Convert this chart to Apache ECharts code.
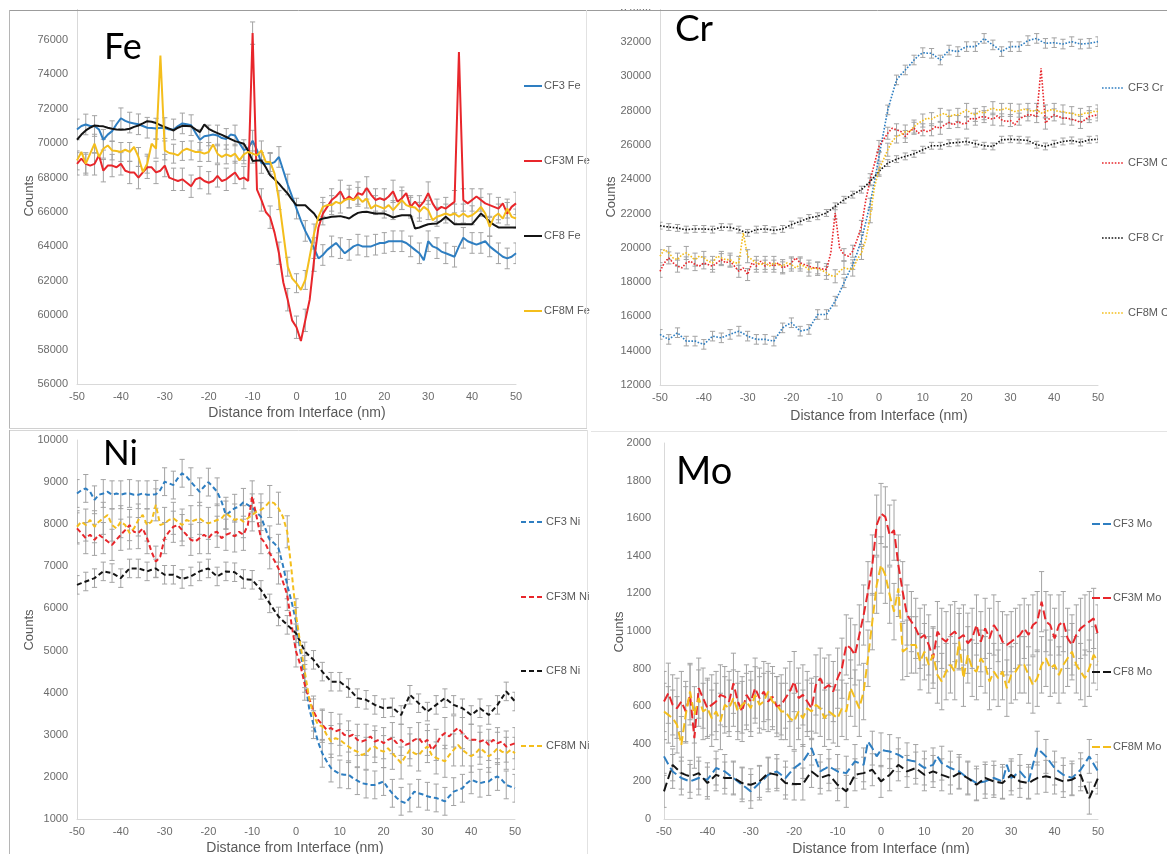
<!DOCTYPE html>
<html>
<head>
<meta charset="utf-8">
<title>Fe, Cr, Ni, Mo line profiles across the interface</title>
<script src="https://cdn.jsdelivr.net/npm/echarts@6/dist/echarts.min.js"></script>
<style>
  html, body { margin: 0; padding: 0; background: #ffffff; }
  #chart { width: 1167px; height: 854px; }
</style>
</head>
<body>
<div id="chart"></div>
<script>
// Distance from interface (nm), one profile point per nanometre
const DIST = [
  -50,-49,-48,-47,-46,-45,-44,-43,-42,-41,
  -40,-39,-38,-37,-36,-35,-34,-33,-32,-31,
  -30,-29,-28,-27,-26,-25,-24,-23,-22,-21,
  -20,-19,-18,-17,-16,-15,-14,-13,-12,-11,
  -10,-9,-8,-7,-6,-5,-4,-3,-2,-1,
  0,1,2,3,4,5,6,7,8,9,
  10,11,12,13,14,15,16,17,18,19,
  20,21,22,23,24,25,26,27,28,29,
  30,31,32,33,34,35,36,37,38,39,
  40,41,42,43,44,45,46,47,48,49,
  50
];
const SAMPLES = ['CF3', 'CF3M', 'CF8', 'CF8M'];

// ---- Fe counts ----
const FE_CF3 = [
  70800,71000,71090,71000,71000,70800,70200,70500,70700,71100,
  71450,71300,71200,71150,71100,71000,70900,70880,70850,70900,
  70880,70800,70800,71000,71150,71100,71050,70600,70200,70400,
  70450,70500,70450,70300,70250,70500,70450,70000,69600,69700,
  70150,69600,68850,68800,68800,68900,69200,68400,67600,66900,
  66200,65500,64900,64400,63900,63300,63500,63800,64000,64200,
  63900,63600,63800,64000,64100,64000,64000,64000,64100,64200,
  64200,64300,64300,64300,64300,64200,64000,63800,63600,63200,
  64300,64000,63900,63700,63600,63500,63400,64000,64500,64300,
  64200,64100,64200,64300,64000,63800,63600,63400,63300,63400,
  63600
];
const FE_CF3M = [
  68800,69100,68800,68700,68800,69300,68400,68700,68700,68600,
  68800,68400,68300,68300,68000,68300,68600,68600,68300,68400,
  68700,68000,67900,67800,67900,67700,67500,67900,68000,67800,
  67700,67800,68100,67800,67900,68100,68300,67900,68000,67800,
  76400,67300,66700,66000,65700,64800,63600,61900,60900,59700,
  59300,58500,59700,60900,63200,65100,65900,66300,66700,66900,
  67200,66700,66900,66700,67100,67000,67400,67000,66700,66800,
  66700,66900,67200,66600,66800,67100,66300,66600,66300,66600,
  67100,66500,66100,66300,66200,66400,66600,75300,66700,66500,
  66700,66900,66700,66500,66400,66300,66200,66500,65900,66300,
  66500
];
const FE_CF8 = [
  70200,70500,70740,70900,71030,71000,70980,70900,70840,70800,
  70780,70800,70840,70950,71030,71150,71280,71250,71170,71050,
  70940,70850,70740,70900,71010,71000,70980,70800,70650,71090,
  70840,70700,70590,70480,70360,70240,70120,70050,69970,69550,
  68970,69000,69000,68600,68130,67900,67650,67350,67070,66700,
  66390,66390,66390,66150,65910,65530,65620,65670,65720,65740,
  65760,65700,65620,65800,65950,66000,66010,65960,65910,65910,
  65910,65800,65680,65750,65810,65810,65810,65040,65100,65200,
  65290,65310,65330,65500,65720,65500,65290,65290,65290,65290,
  65290,65600,65910,65700,65430,65250,65100,65100,65100,65100,
  65100
];
const FE_CF8M = [
  69000,69490,68810,69390,69970,69200,69680,69870,69580,69550,
  69490,69620,69490,69780,69200,68330,68810,69970,69680,75090,
  69580,69430,69390,69290,69550,69680,69580,69490,69490,69390,
  69490,69930,69390,69200,69350,69240,69390,69000,69350,69490,
  69390,69290,69580,68910,68910,68230,66690,64750,62820,62140,
  61860,61470,62050,63400,64750,65720,66300,66400,66400,66590,
  66490,66690,66780,66690,66880,66590,66780,66200,66400,66300,
  66200,66400,66110,66400,66690,66400,66300,66260,66010,66300,
  66110,65530,65720,65810,65910,65810,65910,65720,65910,65720,
  65810,66010,66300,65910,65140,65720,65910,65620,66200,65720,
  65620
];
const FE_ERR = [600, 650, null, 550];

// ---- Cr counts ----
const CR_CF3 = [
  14950,14800,14660,14850,15050,14800,14560,14560,14560,14450,
  14370,14600,14850,14800,14750,14850,14950,15050,15140,15000,
  14850,14750,14660,14660,14660,14600,14560,14950,15330,15500,
  15630,15400,15140,15200,15240,15700,16110,16110,16110,16500,
  16890,17400,17960,18500,19020,19700,20480,21500,22610,23900,
  25330,26680,28040,28920,29790,30100,30370,30650,30950,31200,
  31380,31350,31340,31150,30950,31250,31530,31480,31440,31600,
  31730,31730,31730,31950,32210,32000,31830,31650,31440,31600,
  31730,31730,31730,31900,32080,32150,32210,32050,31920,31940,
  31960,31920,31880,31950,32020,31950,31880,31900,31920,31970,
  32020
];
const CR_CF3M = [
  18630,19120,19410,19120,18930,18830,19120,19220,19020,18930,
  19120,19020,18930,19120,19310,19120,19220,18930,18630,18830,
  18440,19120,18930,19220,18930,19120,18930,19120,18830,18930,
  19120,19410,19120,19020,18930,18830,18830,18770,18730,19700,
  22030,19990,19600,19510,19800,20480,21250,22800,23970,24940,
  25910,26300,26680,26970,26880,26780,26490,26780,26970,26680,
  26880,26780,26880,27070,26970,27170,27310,27170,27360,27230,
  27270,27560,27500,27620,27650,27560,27500,27690,27460,27360,
  27420,27170,27500,27650,27750,27750,27650,30470,27270,27560,
  27750,27650,27560,27560,27500,27420,27310,27460,27650,27710,
  27750
];
const CR_CF8 = [
  21290,21250,21210,21180,21160,21100,21060,21080,21100,21100,
  21100,21080,21060,21130,21210,21200,21190,21120,21060,20950,
  20870,20960,21060,21080,21100,21060,21020,21060,21100,21220,
  21350,21450,21540,21640,21740,21790,21840,21940,22030,22230,
  22420,22610,22800,22950,23100,23250,23390,23630,23870,24160,
  24450,24700,24940,25050,25170,25250,25330,25400,25480,25600,
  25720,25830,25950,25950,25950,26020,26100,26120,26140,26170,
  26200,26130,26070,26010,25950,25930,25910,26100,26300,26310,
  26330,26310,26300,26280,26260,26130,26010,25960,25910,25990,
  26070,26130,26200,26230,26260,26200,26140,26220,26300,26310,
  26330
];
const CR_CF8M = [
  19510,19900,19700,19410,19310,19600,19700,19510,19310,19510,
  19410,19220,19120,19510,19410,19310,19310,19120,19120,20870,
  19510,19310,19120,19020,19120,18930,19120,19020,18930,19120,
  19020,18830,19020,18930,18730,18830,18770,18690,18540,18380,
  18340,18630,18830,18770,18730,19310,19700,20480,21840,23580,
  24550,25130,25720,26200,26490,26590,26780,26780,27070,27270,
  27420,27560,27500,27650,27750,27850,27650,27750,27750,27890,
  28040,27850,27750,27950,27850,28040,28140,28040,28040,28140,
  28040,27950,28000,28080,28040,27950,28040,27850,27950,28040,
  28040,27950,27950,27850,27850,27750,27750,27850,27850,27950,
  27950
];
const CR_ERR = [280, 350, 200, 380];

// ---- Ni counts ----
const NI_CF3 = [
  8730,8810,8850,8770,8580,8700,8730,8770,8700,8730,
  8700,8730,8730,8700,8700,8730,8700,8700,8710,8810,
  9010,8970,8930,9090,9210,9130,9010,8890,8770,8890,
  9000,8890,8770,8540,8220,8300,8380,8420,8520,8460,
  8390,8280,8180,7900,7630,7550,7430,7030,6560,6160,
  5690,4980,4340,3630,3240,2840,2560,2370,2210,2130,
  2070,2050,2050,1970,1910,1850,1830,1810,1810,1850,
  1890,1730,1610,1500,1420,1380,1500,1650,1610,1580,
  1540,1510,1500,1460,1420,1540,1650,1690,1730,1850,
  1930,1890,1850,1880,1890,1970,2010,1930,1810,1770,
  1730
];
const NI_CF3M = [
  7900,7790,7670,7750,7630,7750,7670,7590,7510,7630,
  7750,7860,7980,7820,7790,7900,7670,7350,7110,7230,
  7670,7820,7940,7980,7860,7750,7630,7590,7670,7750,
  7670,7790,7820,7670,7750,7790,7710,7820,7750,7980,
  8660,8180,7670,7550,7310,7150,6950,6640,6320,5610,
  4980,4660,4190,3870,3550,3360,3240,3120,3160,3080,
  3120,3000,2960,3000,2880,2840,2880,2960,2840,2880,
  2800,2880,2920,2800,2880,2760,2800,2880,2920,2800,
  2880,2640,2760,2960,3040,2960,3080,3160,3040,2920,
  2880,2880,2840,2880,2760,2880,2800,2840,2720,2760,
  2800
];
const NI_CF8 = [
  6560,6600,6640,6680,6720,6800,6880,6860,6840,6780,
  6720,6840,6950,6950,6950,6920,6880,6920,6950,6870,
  6800,6800,6800,6750,6700,6730,6760,6820,6880,6920,
  6950,6850,6760,6820,6880,6870,6860,6780,6700,6690,
  6680,6560,6440,6280,6120,5960,5810,5710,5610,5510,
  5410,5200,4980,4880,4780,4640,4500,4380,4260,4260,
  4260,4180,4110,3990,3870,3850,3830,3770,3710,3670,
  3630,3640,3650,3560,3470,3710,3950,3850,3750,3650,
  3550,3630,3710,3790,3870,3790,3710,3670,3630,3550,
  3470,3550,3630,3550,3470,3590,3710,3870,4030,3910,
  3790
];
const NI_CF8M = [
  7940,8060,7980,8100,7940,8060,8140,8220,7980,7900,
  8060,7980,7790,7900,8100,8220,7980,8060,8460,7980,
  8020,8100,8140,8060,7980,8100,8060,8100,8140,8060,
  8020,8060,8100,8140,8260,8180,8100,8140,8060,8140,
  8220,8300,8340,8420,8540,8500,8380,8180,7820,6880,
  5850,5140,4500,3870,3470,3240,3200,3000,2840,2920,
  2880,2800,2720,2640,2600,2520,2560,2680,2720,2640,
  2600,2680,2560,2450,2330,2490,2640,2560,2520,2640,
  2720,2520,2450,2410,2370,2520,2640,2760,2640,2560,
  2490,2560,2680,2600,2490,2560,2680,2600,2560,2640,
  2560
];
const NI_ERR = [330, 370, 220, 380];

// ---- Mo counts ----
const MO_CF3 = [
  333,290,253,235,218,209,200,209,218,214,
  209,240,271,262,253,235,218,200,182,165,
  147,169,191,213,235,244,253,235,218,245,
  271,288,306,341,377,315,253,266,280,266,
  253,249,244,275,306,297,288,412,377,333,
  368,363,359,350,342,328,315,310,306,288,
  271,280,288,333,297,284,271,262,253,235,
  218,205,191,195,200,209,218,209,200,288,
  218,235,253,227,200,288,377,355,333,302,
  271,253,235,227,218,240,262,297,333,293,
  253
];
const MO_CF3M = [
  625,669,607,589,625,572,660,430,696,643,
  589,607,625,660,651,625,722,625,572,660,
  625,696,643,678,625,651,598,607,643,678,
  731,643,660,625,589,713,749,696,713,678,
  749,802,926,908,873,979,1085,1209,1351,1563,
  1625,1607,1510,1536,1351,1209,1085,1050,1014,961,
  979,926,855,997,961,943,979,997,961,979,
  935,961,1032,943,1014,961,1032,997,943,926,
  943,961,979,1014,979,1032,1050,1156,1050,1032,
  961,1032,1050,961,926,979,1014,1032,1050,1067,
  979
];
const MO_CF8 = [
  147,218,288,266,244,235,227,235,244,218,
  191,213,235,227,218,218,218,205,191,186,
  182,191,200,222,244,240,235,213,191,189,
  186,186,186,220,253,235,218,227,235,209,
  182,165,147,191,235,240,244,253,262,231,
  200,218,235,262,288,271,253,262,271,253,
  235,244,253,244,235,227,218,231,244,231,
  218,200,182,200,218,209,200,196,191,213,
  235,218,200,196,191,205,218,222,227,222,
  218,209,200,205,209,222,235,173,111,165,
  218
];
const MO_CF8M = [
  572,554,536,501,395,554,678,554,643,572,
  589,536,572,519,607,589,643,572,607,625,
  589,660,607,625,678,625,607,572,572,536,
  519,572,536,589,572,607,589,536,572,554,
  536,589,572,696,643,589,678,855,1050,1244,
  1351,1297,1191,1103,1227,890,908,926,926,837,
  890,820,873,766,731,784,820,784,943,749,
  873,802,784,855,820,731,784,749,784,696,
  766,784,820,820,766,713,749,820,855,802,
  820,766,820,855,890,820,784,749,802,873,
  837
];
const MO_ERR = [90, 160, 85, 150];

// ---- appearance ----
const COLORS = ['#2E7EC1', '#E8262B', '#141414', '#F4BE1C'];
const AXIS_FONT = 'Liberation Sans, Arial, sans-serif';
const LABEL_GREY = '#6b6b6b';
const TITLE_GREY = '#595959';

const panels = [
  {
    element: 'Fe', data: [FE_CF3, FE_CF3M, FE_CF8, FE_CF8M], err: FE_ERR, errStep: [2, 2, 2, 2],
    grid: { left: 77, top: 5.6, width: 439, height: 378.4 },
    yMin: 56000, yMax: 78000, yStep: 2000, yMargin: 9, showMax: false,
    line: { width: 2, type: 'solid' },
    legend: { x1: 524, x2: 542, tx: 544, ys: [86, 161, 236, 311], dash: null, width: 2 },
    big: { x: 104, y: 47, size: 36 },
    counts: { x: 29, y: 196 }, dist: { x: 297, y: 413 }
  },
  {
    element: 'Cr', data: [CR_CF3, CR_CF3M, CR_CF8, CR_CF8M], err: CR_ERR, errStep: [2, 2, 2, 2],
    grid: { left: 660, top: 7.7, width: 438, height: 377.3 },
    yMin: 12000, yMax: 34000, yStep: 2000, yMargin: 9, showMax: true,
    line: { width: 1.6, type: [1.6, 1.6] },
    legend: { x1: 1102, x2: 1124, tx: 1128, ys: [88, 163, 238, 313], dash: [1.6, 1.6], width: 1.5 },
    big: { x: 675, y: 29, size: 37 },
    counts: { x: 611, y: 197 }, dist: { x: 879, y: 416 }
  },
  {
    element: 'Ni', data: [NI_CF3, NI_CF3M, NI_CF8, NI_CF8M], err: NI_ERR, errStep: [2, 2, 2, 2],
    grid: { left: 77, top: 440, width: 438, height: 379 },
    yMin: 1000, yMax: 10000, yStep: 1000, yMargin: 9, showMax: true,
    line: { width: 2, type: [5, 3] },
    legend: { x1: 521, x2: 544, tx: 546, ys: [522, 597, 671, 746], dash: [5, 3], width: 2 },
    big: { x: 103, y: 454, size: 35 },
    counts: { x: 29, y: 630 }, dist: { x: 295, y: 848 }
  },
  {
    element: 'Mo', data: [MO_CF3, MO_CF3M, MO_CF8, MO_CF8M], err: MO_ERR, errStep: [2, 1, 2, 1],
    grid: { left: 664, top: 443, width: 434, height: 376 },
    yMin: 0, yMax: 2000, yStep: 200, yMargin: 13, showMax: true,
    line: { width: 2, type: [9, 4] },
    legend: { x1: 1092, x2: 1111, tx: 1113, ys: [524, 598, 672, 747], dash: [8, 3], width: 2 },
    big: { x: 676, y: 472, size: 38 },
    counts: { x: 619, y: 632 }, dist: { x: 881, y: 849 }
  }
];

const grids = [], xAxes = [], yAxes = [], series = [], graphics = [];

// error bars: vertical whisker with a short cap at each end
function renderErrorBar(params, api) {
  const x = api.value(0);
  const lo = api.coord([x, api.value(1)]);
  const hi = api.coord([x, api.value(2)]);
  const hw = 2.6;
  const style = { stroke: '#a3a3a3', lineWidth: 1 };
  return {
    type: 'group',
    children: [
      { type: 'line', shape: { x1: lo[0], y1: lo[1], x2: hi[0], y2: hi[1] }, style },
      { type: 'line', shape: { x1: lo[0] - hw, y1: lo[1], x2: lo[0] + hw, y2: lo[1] }, style },
      { type: 'line', shape: { x1: hi[0] - hw, y1: hi[1], x2: hi[0] + hw, y2: hi[1] }, style }
    ]
  };
}

const plainNumber = v => String(v);

panels.forEach((p, gi) => {
  grids.push(Object.assign({ containLabel: false }, p.grid));
  xAxes.push({
    type: 'value', gridIndex: gi, min: -50, max: 50, interval: 10,
    axisLine: { show: true, onZero: false, lineStyle: { color: '#d9d9d9', width: 1 } },
    axisTick: { show: false }, splitLine: { show: false },
    axisLabel: { color: LABEL_GREY, fontSize: 11, fontFamily: AXIS_FONT, margin: 7, formatter: plainNumber }
  });
  yAxes.push({
    type: 'value', gridIndex: gi, min: p.yMin, max: p.yMax, interval: p.yStep,
    axisLine: { show: true, onZero: false, lineStyle: { color: '#d9d9d9', width: 1 } },
    axisTick: { show: false }, splitLine: { show: false },
    axisLabel: { color: LABEL_GREY, fontSize: 11, fontFamily: AXIS_FONT, margin: p.yMargin,
      showMaxLabel: p.showMax, formatter: plainNumber }
  });

  // error bars first so the profile lines sit above them
  p.data.forEach((vals, si) => {
    const e = p.err[si];
    if (e == null) return;
    const pts = [];
    DIST.forEach((d, i) => {
      if (d % p.errStep[si] === 0) pts.push([d, vals[i] - e, vals[i] + e]);
    });
    series.push({
      type: 'custom', name: SAMPLES[si] + ' ' + p.element + ' error',
      xAxisIndex: gi, yAxisIndex: gi, data: pts, renderItem: renderErrorBar,
      encode: { x: 0, y: [1, 2] }, silent: true, z: 1, clip: true
    });
  });

  p.data.forEach((vals, si) => {
    series.push({
      type: 'line', name: SAMPLES[si] + ' ' + p.element,
      xAxisIndex: gi, yAxisIndex: gi,
      data: DIST.map((d, i) => [d, vals[i]]),
      showSymbol: false, symbol: 'none', smooth: false,
      lineStyle: { color: COLORS[si], width: p.line.width, type: p.line.type, cap: 'butt' },
      z: 3 + si, silent: true
    });
  });

  // legend entries at the right of each panel
  p.legend.ys.forEach((y, si) => {
    const ls = { stroke: COLORS[si], lineWidth: p.legend.width };
    if (p.legend.dash) ls.lineDash = p.legend.dash;
    graphics.push({ type: 'line', shape: { x1: p.legend.x1, y1: y, x2: p.legend.x2, y2: y }, style: ls, z: 20 });
    graphics.push({ type: 'text', x: p.legend.tx, y: y,
      style: { text: SAMPLES[si] + ' ' + p.element, fill: TITLE_GREY, font: '11px ' + AXIS_FONT,
        textVerticalAlign: 'middle', verticalAlign: 'middle' }, z: 20 });
  });

  // element symbol
  graphics.push({ type: 'text', x: p.big.x, y: p.big.y,
    style: { text: p.element, fill: '#000000', font: p.big.size + 'px Lato, "Open Sans", sans-serif',
      textVerticalAlign: 'middle', verticalAlign: 'middle' }, z: 20 });

  // axis titles
  graphics.push({ type: 'text', x: p.counts.x, y: p.counts.y, rotation: Math.PI / 2,
    style: { text: 'Counts', fill: TITLE_GREY, font: '13px ' + AXIS_FONT,
      textAlign: 'center', align: 'center', textVerticalAlign: 'middle', verticalAlign: 'middle' }, z: 20 });
  graphics.push({ type: 'text', x: p.dist.x, y: p.dist.y,
    style: { text: 'Distance from Interface (nm)', fill: TITLE_GREY, font: '14px ' + AXIS_FONT,
      textAlign: 'center', align: 'center', textVerticalAlign: 'middle', verticalAlign: 'middle' }, z: 20 });
});

// panel frames
graphics.push({ type: 'rect', shape: { x: 0, y: 0, width: 1167, height: 9 }, style: { fill: '#ffffff' }, z: 30 });
graphics.push({ type: 'line', shape: { x1: 9, y1: 10.5, x2: 1167, y2: 10.5 }, style: { stroke: '#9c9c9c', lineWidth: 1 }, z: 31 });
graphics.push({ type: 'line', shape: { x1: 9.5, y1: 10, x2: 9.5, y2: 428 }, style: { stroke: '#b5b5b5', lineWidth: 1 }, z: 31 });
graphics.push({ type: 'line', shape: { x1: 586.5, y1: 10, x2: 586.5, y2: 428 }, style: { stroke: '#e2e2e2', lineWidth: 1 }, z: 31 });
graphics.push({ type: 'line', shape: { x1: 9, y1: 428.5, x2: 587, y2: 428.5 }, style: { stroke: '#d0d0d0', lineWidth: 1 }, z: 31 });
graphics.push({ type: 'line', shape: { x1: 9, y1: 430.5, x2: 588, y2: 430.5 }, style: { stroke: '#d6d6d6', lineWidth: 1 }, z: 31 });
graphics.push({ type: 'line', shape: { x1: 9.5, y1: 430, x2: 9.5, y2: 854 }, style: { stroke: '#b5b5b5', lineWidth: 1 }, z: 31 });
graphics.push({ type: 'line', shape: { x1: 587.5, y1: 430, x2: 587.5, y2: 854 }, style: { stroke: '#e2e2e2', lineWidth: 1 }, z: 31 });
graphics.push({ type: 'line', shape: { x1: 591, y1: 431.5, x2: 1167, y2: 431.5 }, style: { stroke: '#e4e4e4', lineWidth: 1 }, z: 31 });

const chart = echarts.init(document.getElementById('chart'), null, { renderer: 'canvas' });
chart.setOption({
  backgroundColor: '#ffffff',
  animation: false,
  grid: grids,
  xAxis: xAxes,
  yAxis: yAxes,
  series: series,
  graphic: { elements: graphics }
});
</script>
</body>
</html>
